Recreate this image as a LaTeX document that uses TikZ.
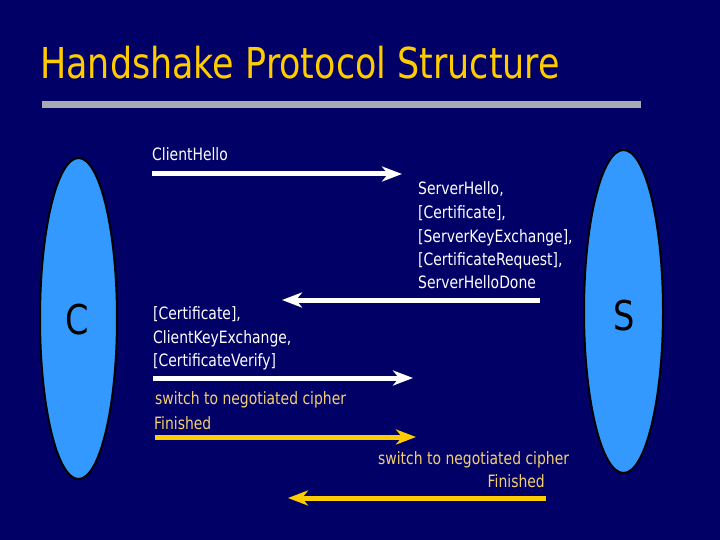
\documentclass[tikz,border=0pt]{standalone}
\usepackage{fontspec}
\setmainfont{DejaVu Sans}[FakeStretch=0.82]
\usetikzlibrary{arrows.meta}
\definecolor{bg}{HTML}{000066}
\definecolor{ttl}{HTML}{FFCC00}
\definecolor{ylw}{HTML}{FFCC00}
\definecolor{ytxt}{HTML}{F5D070}
\definecolor{ell}{HTML}{3399FF}
\definecolor{barg}{HTML}{A9A9B0}
\tikzset{
  msg/.style={inner sep=0pt, anchor=base west, text=white, font=\fontsize{17}{20}\selectfont},
  ymsg/.style={msg, text=ytxt},
  party/.style={draw=black, line width=2pt, fill=ell},
  letter/.style={inner sep=0pt, text=black, font=\fontsize{41}{45}\selectfont},
  arr/.style={line width=5pt, -{Stealth[length=20pt,width=15pt,inset=6pt]}},
  warr/.style={arr, draw=white},
  yarr/.style={arr, draw=ylw},
}
\begin{document}
\begin{tikzpicture}[x=1pt,y=-1pt]
\fill[bg] (0,0) rectangle (720,540);
\useasboundingbox (0,0) rectangle (720,540);
% title
\node[inner sep=0pt, anchor=base west, text=ttl, font=\fontsize{42.6}{46}\selectfont] (title) at (40,79) {Handshake Protocol Structure};
\fill[barg] (42,101) rectangle (641,108);
% parties
\draw[party] (78.5,318.5) ellipse [x radius=38.5, y radius=160.5];
\node[letter] (C) at (77.5,320) {C};
\draw[party] (623.5,311.5) ellipse [x radius=39.5, y radius=161.5];
\node[letter] (S) at (624,316) {S};
% coordinates for arrows
\coordinate (a1s) at (152,174); \coordinate (a1e) at (402,174);
\coordinate (a2s) at (540,300); \coordinate (a2e) at (282,300);
\coordinate (a3s) at (153,378); \coordinate (a3e) at (413,378);
\coordinate (a4s) at (155,437); \coordinate (a4e) at (416,437);
\coordinate (a5s) at (546,498); \coordinate (a5e) at (288,498);
% messages
\node[msg] (ch) at (152,161) {ClientHello};
\draw[warr] (a1s) -- (a1e);
\node[msg] (sh1) at (418,195) {ServerHello,};
\node[msg] (sh2) at (418,218.5) {[Certificate],};
\node[msg] (sh3) at (418,242) {[ServerKeyExchange],};
\node[msg] (sh4) at (418,265) {[CertificateRequest],};
\node[msg] (sh5) at (418,288) {ServerHelloDone};
\draw[warr] (a2s) -- (a2e);
\node[msg] (c1) at (153,319) {[Certificate],};
\node[msg] (c2) at (153,343) {ClientKeyExchange,};
\node[msg] (c3) at (153,366) {[CertificateVerify]};
\draw[warr] (a3s) -- (a3e);
\node[ymsg] (sw1) at (155,404) {switch to negotiated cipher};
\node[ymsg] (f1) at (154,429) {Finished};
\draw[yarr] (a4s) -- (a4e);
\node[ymsg] (sw2) at (378,464) {switch to negotiated cipher};
\node[ymsg, anchor=base east] (f2) at (545,487) {Finished};
\draw[yarr] (a5s) -- (a5e);
\end{tikzpicture}
\end{document}
